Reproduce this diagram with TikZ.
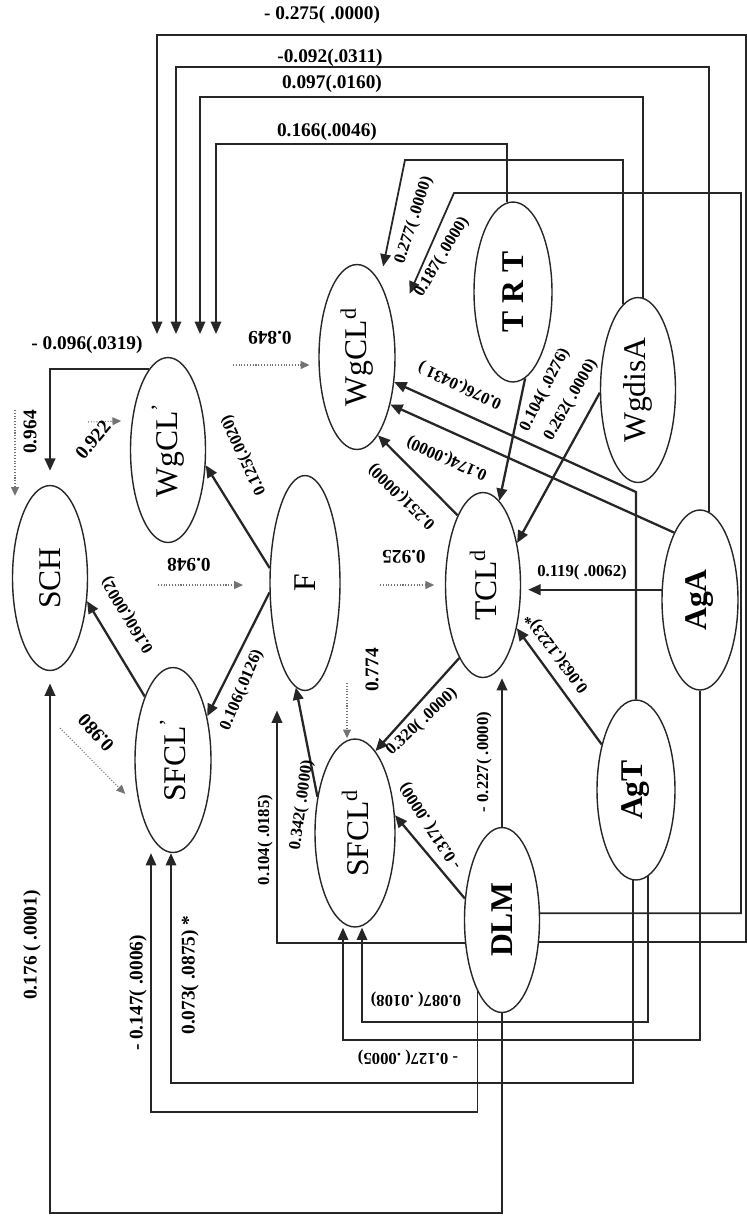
\documentclass[tikz,border=0pt]{standalone}
\usepackage{fontspec}
\setmainfont{Liberation Serif}
\usetikzlibrary{shapes.geometric, arrows.meta, calc}

\begin{document}
\begin{tikzpicture}[
    x=0.02cm, y=-0.02cm,
    % ── variables ──
    latVar/.style  = {draw=black!85, ellipse, line width=0.8pt, inner sep=0pt,
                      minimum width=1.5cm, minimum height=3.7cm,
                      font=\fontsize{18}{20}\selectfont},
    obsVar/.style  = {latVar, font=\fontsize{18}{20}\selectfont\bfseries},
    % ── arrows ──
    arr/.style     = {-{Triangle[length=7pt,width=6pt]}, line width=1.3pt,
                      black!85},
    route/.style   = {-{Triangle[length=7pt,width=6pt]}, line width=1pt,
                      black!85},
    errArr/.style  = {-{Triangle[length=5pt,width=4.5pt]}, densely dotted,
                      line width=0.6pt, black!55},
    % ── text styles ──
    coef/.style    = {font=\fontsize{11}{12}\selectfont\bfseries, inner sep=1pt},
    coefS/.style   = {font=\fontsize{9.5}{11}\selectfont\bfseries, inner sep=1pt},
]

\useasboundingbox (0,0) rectangle (747,1218);

% =====================================================================
% Variables   (pixel grid, y downwards)
% =====================================================================
\node[latVar] (SCH)   at (50,578)  {\rotatebox{90}{SCH}};
\node[latVar] (WgCLs) at (168,450) {\rotatebox{90}{WgCL\textsuperscript{'}}};
\node[latVar, minimum width=1.4cm, minimum height=4.3cm] (F)
  at (305,583) {\rotatebox{90}{F}};
\node[latVar, minimum width=1.52cm] (SFCLs) at (173,760)
  {\rotatebox{90}{SFCL\textsuperscript{'}}};
\node[latVar, minimum width=1.52cm] (WgCLd) at (357,357)
  {\rotatebox{90}{WgCL\textsuperscript{d}}};
\node[obsVar, minimum width=1.56cm, minimum height=3.6cm] (TRT)
  at (513,292) {\rotatebox{90}{T R T}};
\node[latVar] (WgdisA) at (638,390) {\rotatebox{90}{WgdisA}};
\node[latVar] (TCLd)   at (483,585) {\rotatebox{90}{TCL\textsuperscript{d}}};
\node[obsVar, minimum width=1.52cm, minimum height=3.6cm] (AgA)
  at (700,600) {\rotatebox{90}{AgA}};
\node[obsVar, minimum width=1.56cm, minimum height=3.6cm] (AgT)
  at (636,790) {\rotatebox{90}{AgT}};
\node[latVar, minimum width=1.6cm, minimum height=3.76cm] (SFCLd)
  at (355,833) {\rotatebox{90}{SFCL\textsuperscript{d}}};
\node[obsVar] (DLM) at (502,920) {\rotatebox{90}{DLM}};

% =====================================================================
% Direct paths
% =====================================================================
\draw[arr] (F.157) -- (WgCLs.-22);
\draw[arr] (F.195) -- (SFCLs.52);
\draw[arr] (SFCLs.114) -- (SCH.-32);
\draw[arr, shorten >=8pt] (WgCLs.103) -| (SCH.north);
\draw[arr] (SFCLd.136) -- (F.265);
\draw[arr] (TCLd.110) -- (WgCLd.-75);
\draw[arr] (AgA.111) -- (WgCLd.-55);
\draw[arr] (AgT.north) -- (636,492) -- (WgCLd.-34);
\draw[arr, shorten >=4pt] (AgA.165) -- (TCLd.east |- AgA.165);
\draw[arr] (AgT.127) -- (TCLd.-52);
\draw[arr] (DLM.north) -- (DLM.north |- TCLd.south);
\draw[arr] (DLM.150) -- (SFCLd.24);
\draw[arr] (TCLd.252) -- (SFCLd.76);
\draw[arr] (TRT.-82) -- (TCLd.79);
\draw[arr] (WgdisA.184) -- (TCLd.51);

% =====================================================================
% Routed paths   (top frame into WgCL', bottom frame into SFCL / SCH)
% =====================================================================
\draw[route, shorten >=13pt] (DLM.-31) -| (746,35) -- (157,35)
  -- (157,0 |- WgCLs.north);
\draw[route, shorten >=13pt] (AgA.84) |- (176,67) -- (176,0 |- WgCLs.north);
\draw[route, shorten >=13pt] (WgdisA.87) |- (200,97)
  -- (200,0 |- WgCLs.north);
\draw[route, shorten >=13pt] (TRT.94) |- (216,144) -- (216,0 |- WgCLs.north);
\draw[route, shorten >=9pt] (WgdisA.100) |- (405,160) -- (WgCLd.73);
\draw[route, shorten >=22pt] (DLM.10) -| (741,193) -- (454,193)
  -- (WgCLd.37);

\draw[route, shorten >=11pt] (DLM.212) -| (277,0 |- F.south);
\draw[route, shorten >=7pt] (DLM.south) |- (50,1213) -- (SCH.south);
\draw[route] (DLM.251) |- (151,1112) -- (151,0 |- SFCLs.south);
\draw[route] (AgT.268) |- (171,1083) -- (171,0 |- SFCLs.south);
\draw[route] (AgT.278) |- (362,1022) -- (362,0 |- SFCLd.south);
\draw[route] (AgA.south) |- (343,1040) -- (343,0 |- SFCLd.south);

% =====================================================================
% Residual terms
% =====================================================================
\coordinate (eSCH) at (15,410);
\coordinate (eWgs) at (88,422);
\coordinate (eSfs) at (60,728);
\coordinate (eF)   at (158,585);
\coordinate (eWgd) at (233,365);
\coordinate (eTcl) at (380,585);
\coordinate (eSfd) at (347,683);
\draw[errArr] (eSCH) -- ($(eSCH |- SCH.north)+(0,11)$);
\draw[errArr, shorten >=6pt]  (eWgs) -- (WgCLs.141);
\draw[errArr, shorten >=12pt] (eSfs) -- (SFCLs.236);
\draw[errArr, shorten >=15pt] (eF) -- (F.west |- eF);
\draw[errArr, shorten >=5pt]  (eWgd) -- (WgCLd.west |- eWgd);
\draw[errArr, shorten >=6pt]  (eTcl) -- (TCLd.west);
\draw[errArr] (eSfd) -- (eSfd |- SFCLd.north);

% =====================================================================
% Coefficients
% =====================================================================
\node[coef] (cDlmWgs)  at (322,15)  {- 0.275( .0000)};
\node[coef] (cAgaWgs)  at (330,58)  {-0.092(.0311)};
\node[coef] (cWdaWgs)  at (332,84)  {0.097(.0160)};
\node[coef] (cTrtWgs)  at (327,132) {0.166(.0046)};
\node[coefS, rotate=72] (cWdaWgd) at (414,220) {0.277( .0000)};
\node[coefS, rotate=59] (cDlmWgd) at (442,257) {0.187( .0000)};
\node[coef] (cWgsSch)  at (87,345)  {- 0.096(.0319)};
\node[coef, rotate=90]  (rSch)   at (30,432)  {0.964};
\node[coef, rotate=50]  (rWgs)   at (93,440)  {0.922};
\node[coef, rotate=180] (rWgd)   at (270,338) {0.849};
\node[coefS, rotate=115] (cFWgs) at (244,455) {0.125(.0020)};
\node[coef, rotate=180] (rF)     at (189,565) {0.948};
\node[coefS, rotate=121] (cSfsSch) at (128,615) {0.160(.0002)};
\node[coefS, rotate=67]  (cFSfs)   at (242,690) {0.106(.0126)};
\node[coef, rotate=132] (rSfs)   at (96,733)  {0.980};
\node[coef, rotate=180] (rTcl)   at (404,557) {0.925};
\node[coefS, rotate=136] (cTclWgd) at (402,496) {0.251(.0000)};
\node[coefS, rotate=156] (cAgaWgd) at (447,458) {0.174(.0000)};
\node[coefS, rotate=155] (cAgtWgd) at (460,385) {0.076(.0431 )};
\node[coefS, rotate=63]  (cTrtTcl) at (545,390) {0.104( .0276)};
\node[coefS, rotate=60]  (cWdaTcl) at (571,400) {0.262( .0000)};
\node[coefS] (cAgaTcl) at (582,572) {0.119( .0062)};
\node[coefS, rotate=127] (cAgtTcl) at (557,653) {0.063(.1223)*};
\node[coef, rotate=90]  (rSfd)   at (372,670) {0.774};
\node[coefS, rotate=43]  (cTclSfd) at (422,722) {0.320( .0000)};
\node[coefS, rotate=82]  (cSfdF)   at (302,805) {0.342( .0000)};
\node[coefS, rotate=90]  (cDlmF)   at (265,840) {0.104( .0185)};
\node[coefS, rotate=90]  (cDlmTcl) at (484,762) {- 0.227( .0000)};
\node[coefS, rotate=123] (cDlmSfd) at (431,826) {- 0.317( .0000)};
\node[coefS, rotate=180] (cAgtSfd) at (416,1000) {0.087( .0108)};
\node[coefS, rotate=180] (cAgaSfd) at (408,1057) {- 0.127( .0005)};
\node[coef, rotate=90]  (cDlmSch) at (32,945)  {0.176 ( .0001)};
\node[coef, rotate=90]  (cDlmSfs) at (138,993) {- 0.147( .0006)};
\node[coef, rotate=90]  (cAgtSfs) at (190,975) {0.073( .0875) *};

\end{tikzpicture}
\end{document}
